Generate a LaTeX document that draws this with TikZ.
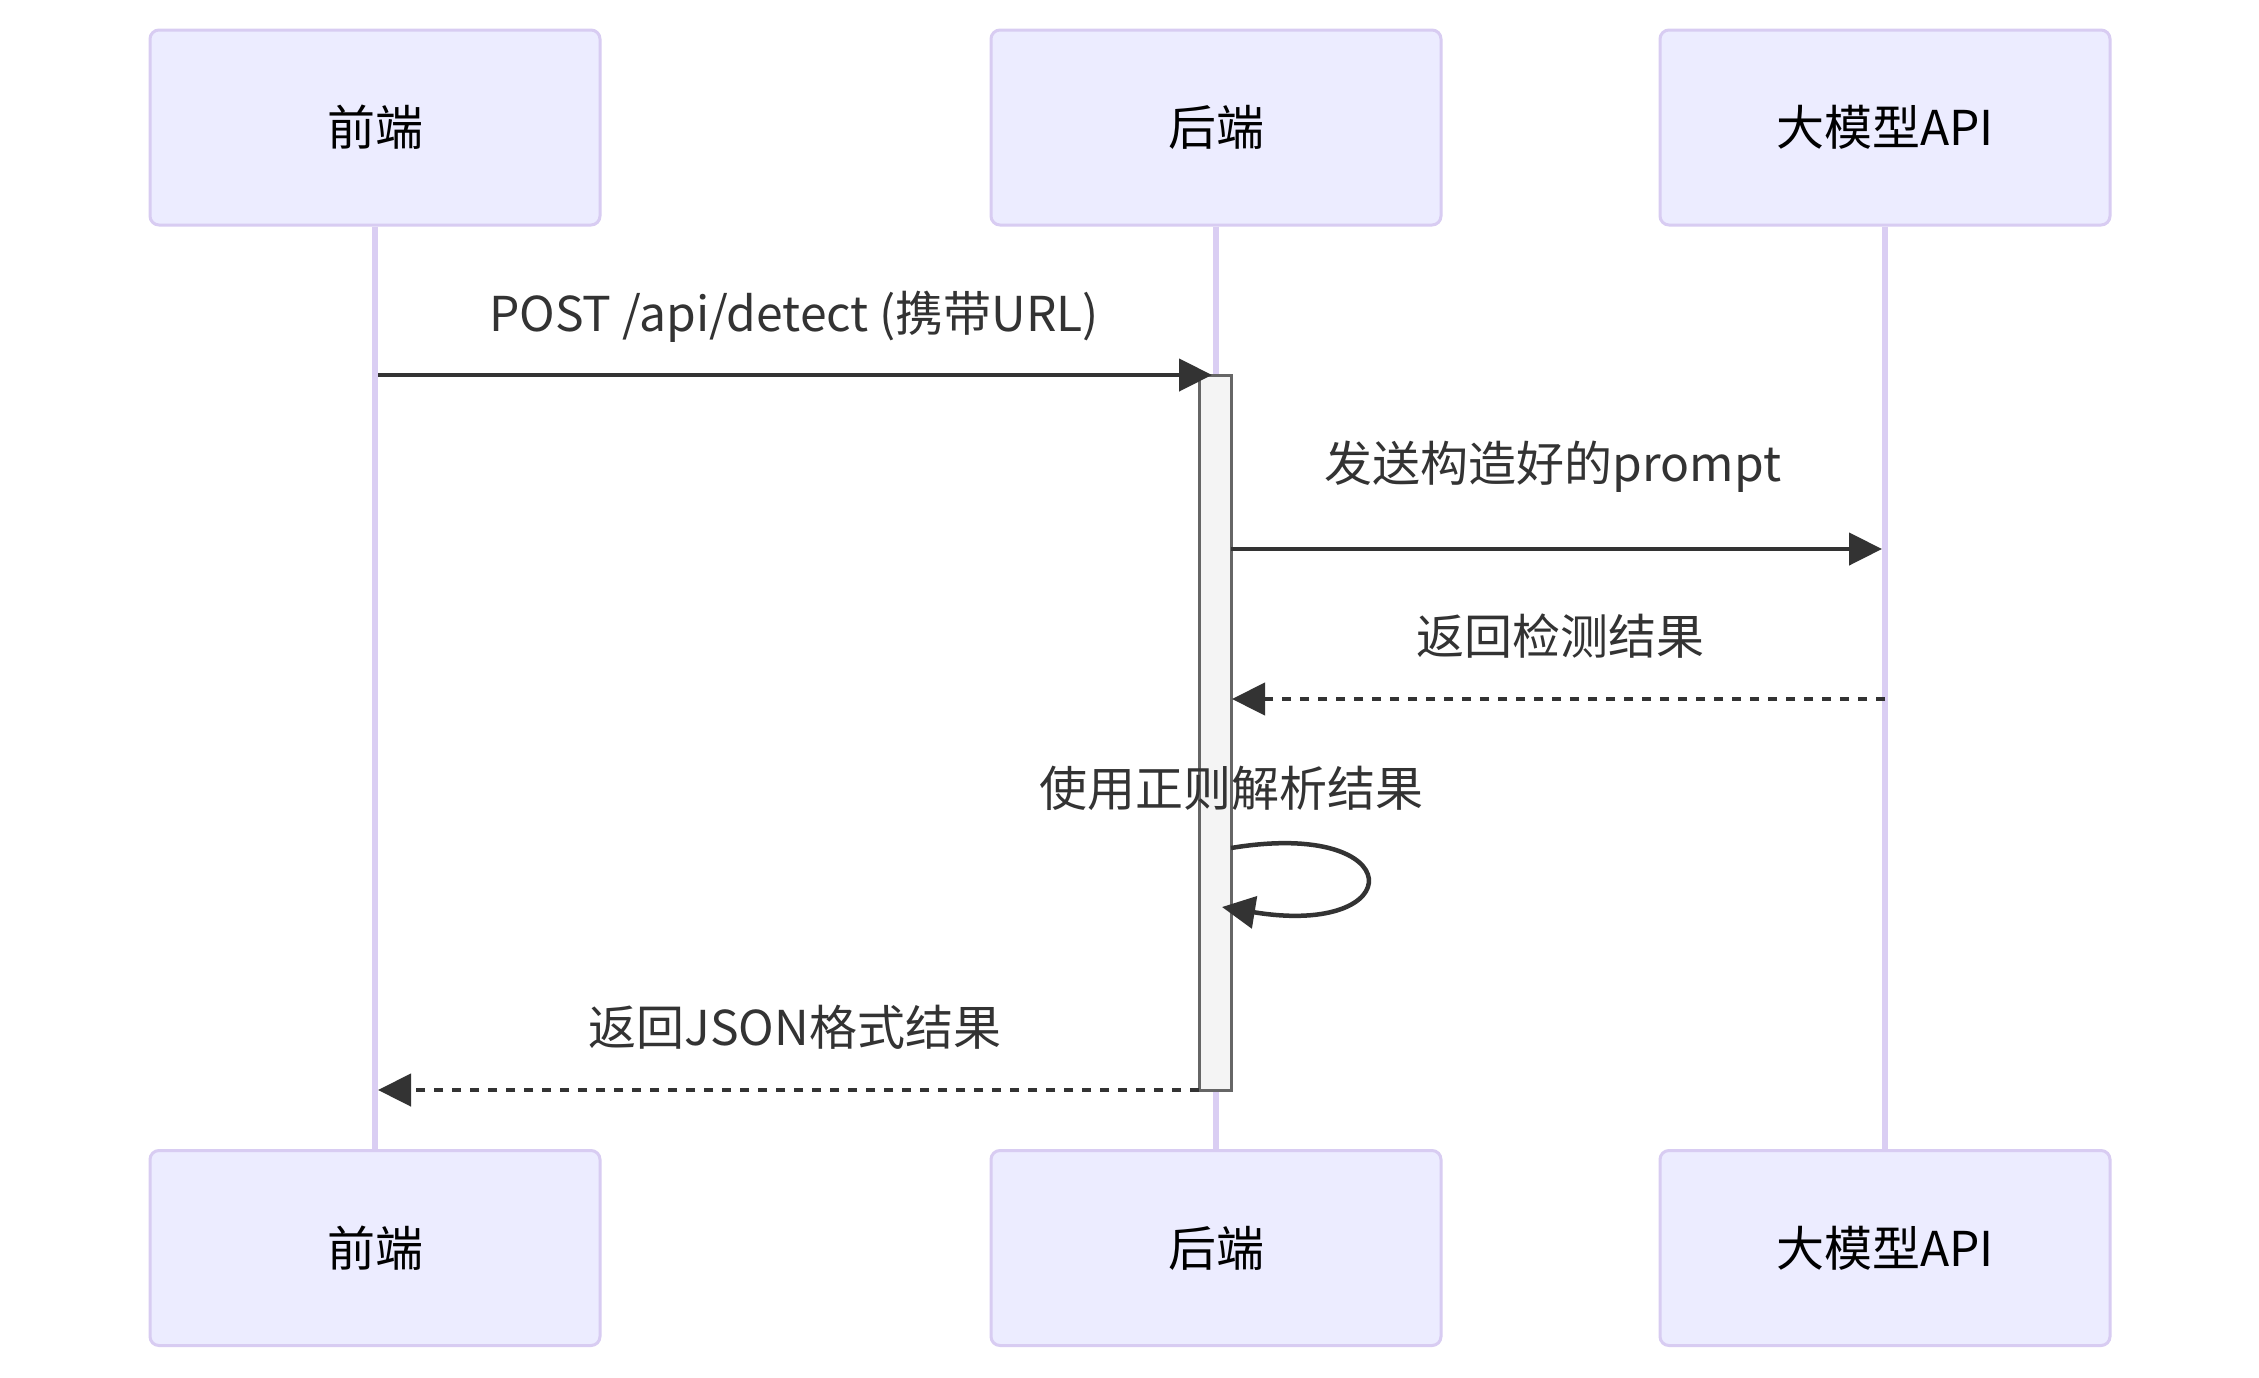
\documentclass[tikz,border=0pt]{standalone}
\usepackage{fontspec}
\setmainfont{Noto Sans CJK SC}
\usetikzlibrary{arrows.meta}
\definecolor{actfill}{HTML}{ECECFF}
\definecolor{actline}{HTML}{D8CCF2}
\definecolor{lifeline}{HTML}{DACEF3}
\definecolor{txt}{HTML}{333333}
\definecolor{barfill}{HTML}{F4F4F4}
\definecolor{barline}{HTML}{666666}
\begin{document}
\begin{tikzpicture}[x=1pt,y=-1pt,
  actor/.style={draw=actline, fill=actfill, line width=3pt, rounded corners=9pt,
    minimum width=450pt, minimum height=195pt, inner sep=0pt,
    font=\fontsize{48}{58}\selectfont, text=black},
  lbl/.style={inner sep=0pt, text=txt, font=\fontsize{48}{58}\selectfont,
    text height=0.88em, text depth=0.12em},
  life/.style={draw=lifeline, line width=6pt},
  msg/.style={draw=txt, line width=4.5pt, -{Triangle[length=33pt,width=32pt]}},
  reply/.style={msg, dash pattern=on 9pt off 9pt},
  bar/.style={draw=barline, fill=barfill, line width=3pt, minimum width=32pt,
    minimum height=715pt, inner sep=0pt}
]
\useasboundingbox (0,0) rectangle (2259,1377);
\fill[white] (0,0) rectangle (2259,1377);

% actors
\node[actor] (fT) at (375,127.5) {前端};
\node[actor] (bT) at (1216,127.5) {后端};
\node[actor] (aT) at (1885,127.5) {大模型API};
\node[actor] (fB) at (375,1248) {前端};
\node[actor] (bB) at (1216,1248) {后端};
\node[actor] (aB) at (1885,1248) {大模型API};

% lifelines
\draw[life] (fT.south) -- (fB.north);
\draw[life] (bT.south) -- (bB.north);
\draw[life] (aT.south) -- (aB.north);

% activation
\node[bar] (act) at (1215,732.5) {};

% message endpoints
\coordinate (m1s) at (378,375);
\coordinate (m1e) at (1212,375);
\coordinate (m2s) at (1231,549);
\coordinate (m2e) at (1882,549);
\coordinate (m3s) at (1885,699);
\coordinate (m3e) at (1232,699);
\coordinate (m4s) at (1231,848);
\coordinate (m4e) at (1222,907);
\coordinate (m5s) at (1199,1090);
\coordinate (m5e) at (378,1090);

% messages
\draw[msg] (m1s) -- (m1e);
\node[lbl] (l1) at (794,328) {POST /api/detect (携带URL)};

\draw[msg] (m2s) -- (m2e);
\node[lbl] (l2) at (1553,478) {发送构造好的prompt};

\draw[reply] (m3s) -- (m3e);
\node[lbl] (l3) at (1560,651) {返回检测结果};

\node[lbl] (l4) at (1231,803) {使用正则解析结果};
\draw[msg] (m4s) .. controls (1411,818) and (1411,938) .. (m4e);

\draw[reply] (m5s) -- (m5e);
\node[lbl] (l5) at (795,1042) {返回JSON格式结果};
\end{tikzpicture}
\end{document}
